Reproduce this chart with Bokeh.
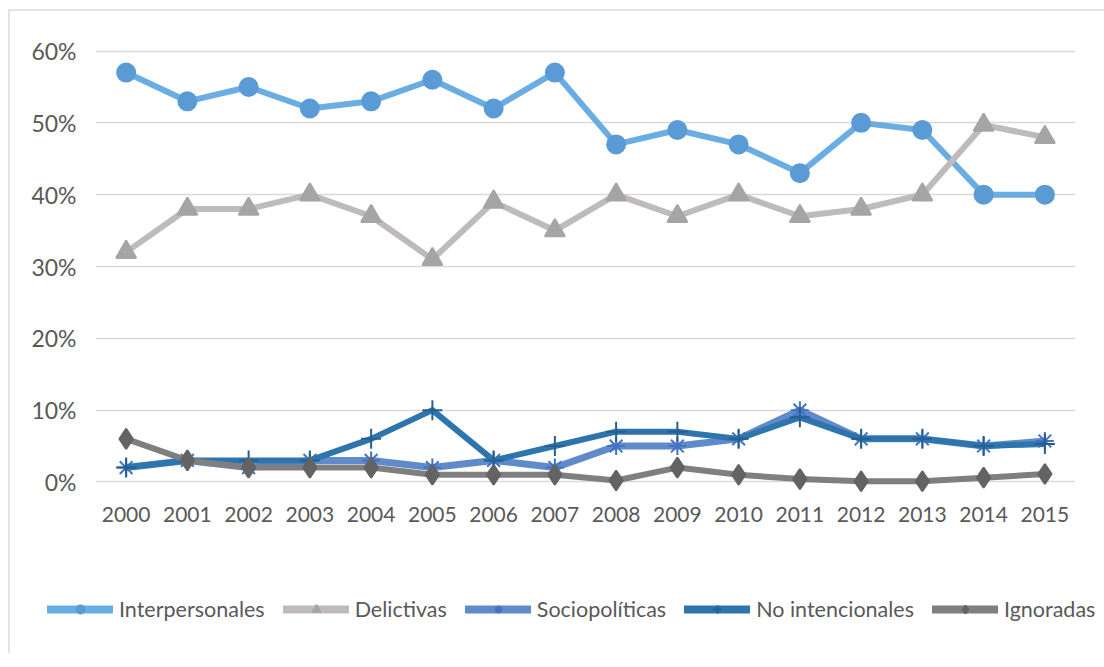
from bokeh.plotting import figure
from bokeh.layouts import column
from bokeh.models import Range1d, FixedTicker, PrintfTickFormatter, Legend, LegendItem
from bokeh.embed import file_html
from bokeh.resources import INLINE

years = list(range(2000, 2016))
interpersonales = [57, 53, 55, 52, 53, 56, 52, 57, 47, 49, 47, 43, 50, 49, 40, 40]
delictivas = [32, 38, 38, 40, 37, 31, 39, 35, 40, 37, 40, 37, 38, 40, 49.7, 48]
sociopoliticas = [2, 3, 2, 3, 3, 2, 3, 2, 5, 5, 6, 10, 6, 6, 5, 5.7]
no_intencionales = [2, 3, 3, 3, 6, 10, 3, 5, 7, 7, 6, 9, 6, 6, 5, 5.3]
ignoradas = [6, 3, 2, 2, 2, 1, 1, 1, 0.2, 2, 1, 0.4, 0.1, 0.1, 0.6, 1.1]
y_ticks = [0, 10, 20, 30, 40, 50, 60]

FONT = "Lato"
TXT = "#595959"

p = figure(frame_width=980, frame_height=474, output_backend="svg", toolbar_location=None,
           x_range=Range1d(1999.5, 2015.5), y_range=Range1d(-3, 63),
           min_border_left=85, min_border_right=29, min_border_top=18, min_border_bottom=60)
p.outline_line_color = None
p.xgrid.visible = False
p.ygrid.grid_line_color = "#d9d9d9"
p.ygrid.grid_line_width = 1.5

for ax in (p.xaxis, p.yaxis):
    ax.axis_line_color = None
    ax.major_tick_line_color = None
    ax.minor_tick_line_color = None
    ax.major_tick_out = 0
    ax.major_tick_in = 0
    ax.minor_tick_out = 0
    ax.major_label_text_font = FONT
    ax.major_label_text_color = TXT
    ax.major_label_text_font_size = "21px"
p.yaxis.major_label_text_font_size = "23px"
p.xaxis.ticker = FixedTicker(ticks=years)
p.xaxis.major_label_standoff = 3
p.yaxis.ticker = FixedTicker(ticks=y_ticks)
p.yaxis.formatter = PrintfTickFormatter(format="%d%%")
p.yaxis.major_label_standoff = 19

# legend-only figure below the chart
p2 = figure(width=1094, height=90, output_backend="svg", toolbar_location=None,
            x_range=Range1d(0, 1), y_range=Range1d(0, 1),
            x_axis_type=None, y_axis_type=None, min_border=0)
p2.outline_line_color = None
p2.grid.visible = False
if "frame_align" in p2.properties():
    p2.frame_align = False

series = [
    ("Interpersonales", interpersonales, "#6aade3", "#5b9bd5", "circle", 18, 6),
    ("Delictivas", delictivas, "#bfbbbd", "#a5a5a5", "triangle", 20, 6),
    ("Sociopolíticas", sociopoliticas, "#5f8bcb", "#4472c4", "asterisk", 18, 7),
    ("No intencionales", no_intencionales, "#2e74ad", "#255e91", "cross", 20, 6),
    ("Ignoradas", ignoradas, "#7f7f7f", "#636363", "diamond", 20, 6),
]
items = []
for name, vals, lc, mc, marker, size, lw in series:
    kw = dict(line_color=mc, line_width=2)
    if marker in ("circle", "triangle", "diamond"):
        kw["fill_color"] = mc
    p.line(years, vals, line_color=lc, line_width=lw, line_join="round")
    p.scatter(years, vals, marker=marker, size=size, **kw)
    # same series in the legend figure (outside its visible range): used only for legend glyphs
    l1 = p2.line(years, vals, line_color=lc, line_width=8, line_cap="round")
    l2 = p2.scatter(years, vals, marker=marker, size=size, **kw)
    items.append(LegendItem(label=name, renderers=[l1, l2]))

legend = Legend(items=items, orientation="horizontal", location=(37, 31), margin=0,
                label_text_font=FONT, label_text_font_size="21.5px", label_text_color=TXT,
                glyph_width=66, glyph_height=20, label_standoff=6, spacing=18,
                padding=0, border_line_color=None, background_fill_alpha=0)
p2.add_layout(legend, "center")

layout = column(p, p2, spacing=0)
layout.styles = {"margin-left": "8px", "margin-top": "9px",
                 "border-left": "2px solid #e3e3e3", "border-top": "2px solid #e3e3e3"}

open("out.html", "w").write(file_html(layout, INLINE))
